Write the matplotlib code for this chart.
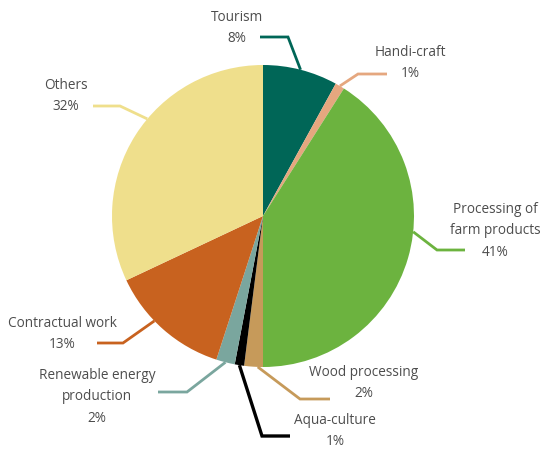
import numpy as np
import matplotlib.pyplot as plt

# Share of activities
labels = ['Tourism', 'Handi-craft', 'Processing of\nfarm products', 'Wood processing',
          'Aqua-culture', 'Renewable energy\nproduction', 'Contractual work', 'Others']
shares = [8, 1, 41, 2, 1, 2, 13, 32]
colors = ['#006657', '#e5a77f', '#6cb33f', '#c69a5a',
          '#000000', '#7aa69e', '#c8621f', '#efdf8c']

plt.rcParams['font.family'] = ['Open Sans', 'DejaVu Sans']

W, H = 540, 450
fig = plt.figure(figsize=(W / 100, H / 100), dpi=100)
ax = fig.add_axes([0, 0, 1, 1])

cx, cy, R = 263, H - 216, 151
wedges, _ = ax.pie(shares, colors=colors, startangle=90, counterclock=False,
                   center=(cx, cy), radius=R, frame=True,
                   wedgeprops=dict(linewidth=0))

# leader layout: anchor angle override (deg, None = wedge middle),
# elbow point, line end, text centre (pixel coords, y from top)
layout = [
    (None, (288, 37), (260, 37), (237, 28)),
    (None, (358, 74), (387, 74), (410, 63)),
    (-6, (437, 250), (465, 250), (495, 231)),
    (-92, (300, 399), (330, 399), (364, 383)),
    (None, (262, 436), (290, 436), (335, 431)),
    (None, (187, 392), (158, 392), (97, 397)),
    (-136, (123, 343), (97, 343), (62, 334)),
    (140, (120, 106), (93, 106), (66, 96)),
]

for w, lab, val, col, (ang, elbow, end, tpos) in zip(
        wedges, labels, shares, colors, layout):
    if ang is None:
        ang = (w.theta1 + w.theta2) / 2
    a = np.deg2rad(ang)
    x0, y0 = cx + R * np.cos(a), cy + R * np.sin(a)
    lw = 2.4 if col == '#000000' else 2.0
    ax.plot([x0, elbow[0], end[0]], [y0, H - elbow[1], H - end[1]],
            color=col, lw=lw, solid_joinstyle='miter', solid_capstyle='butt')
    ax.text(tpos[0], H - tpos[1], f'{lab}\n{val}%', ha='center', va='center',
            fontsize=9.8, color='#4d4d4d', linespacing=1.6,
            multialignment='center')

ax.set_xlim(0, W)
ax.set_ylim(0, H)
ax.set_aspect('equal')
ax.axis('off')

fig.savefig('out.png', dpi=100, facecolor='white')
